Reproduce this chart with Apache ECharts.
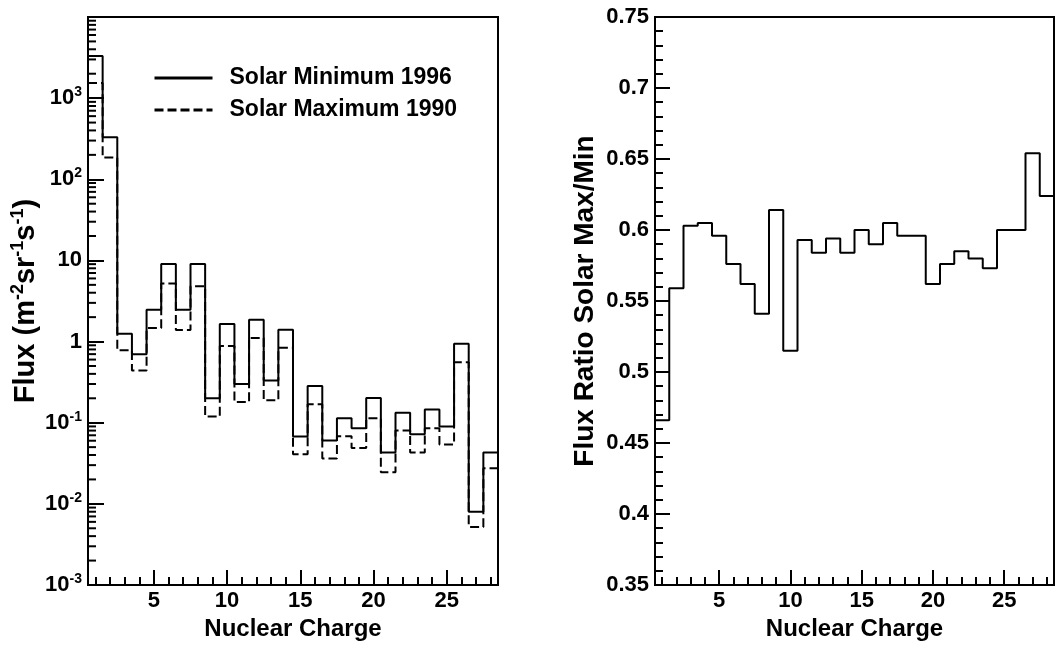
<!DOCTYPE html>
<html><head><meta charset="utf-8">
<script src="https://cdn.jsdelivr.net/npm/echarts@6/dist/echarts.min.js"></script>
<style>html,body{margin:0;padding:0;background:#fff}#c{width:1057px;height:646px}</style>
</head><body><div id="c"></div>
<script>
// ---- data ----
const charges = [1,2,3,4,5,6,7,8,9,10,11,12,13,14,15,16,17,18,19,20,21,22,23,24,25,26,27,28];
const fluxSolarMin1996 = [3300, 330, 1.25, 0.70, 2.47, 9.06, 2.47, 9.06, 0.200, 1.65, 0.299, 1.86, 0.332, 1.40, 0.0677, 0.283, 0.0604, 0.1136, 0.0857, 0.2017, 0.043, 0.133, 0.0723, 0.145, 0.0898, 0.937, 0.0080, 0.043];
const fluxSolarMax1990 = [1540, 185, 0.78, 0.44, 1.47, 5.2, 1.39, 4.82, 0.119, 0.885, 0.18, 1.11, 0.189, 0.837, 0.041, 0.169, 0.0363, 0.0683, 0.0487, 0.1136, 0.0245, 0.0802, 0.043, 0.0857, 0.054, 0.557, 0.0052, 0.0274];
const ratioMaxMin = [0.466, 0.559, 0.603, 0.605, 0.596, 0.576, 0.562, 0.541, 0.614, 0.515, 0.593, 0.584, 0.594, 0.584, 0.600, 0.590, 0.605, 0.596, 0.596, 0.562, 0.576, 0.585, 0.580, 0.573, 0.600, 0.600, 0.654, 0.624];
const seriesNames = ['Solar Minimum 1996', 'Solar Maximum 1990'];
const xTitle = 'Nuclear Charge';
const leftYTitle = 'Flux (m{sup|-2}sr{sup|-1}s{sup|-1})';
const rightYTitle = 'Flux Ratio Solar Max/Min';
const logMinorMultipliers = [2,3,4,5,6,7,8,9];
const logDecades = [-3,-2,-1,0,1,2,3];

// ---- helpers ----
function steps(vals) {
  const pts = [];
  vals.forEach((v, i) => { const z = charges[i]; pts.push([z - 0.5, v], [z + 0.5, v]); });
  return pts;
}
const FONT = 'Liberation Sans, Arial, Helvetica, sans-serif';
const black = '#000';
function xAxisCfg(gi) {
  return {
    type: 'value', gridIndex: gi, min: 0.5, max: 28.5, splitNumber: 6,
    axisLine: { show: true, onZero: false, lineStyle: { color: black, width: 2 } },
    axisTick: { show: true, inside: true, length: 15, lineStyle: { color: black, width: 2 } },
    minorTick: { show: true, splitNumber: 5, length: 8, lineStyle: { color: black, width: 2 } },
    splitLine: { show: false },
    axisLabel: { formatter: v => (Math.abs(v % 5) < 1e-9 ? String(v) : ''), color: black, fontFamily: FONT, fontWeight: 'bold', fontSize: 22, margin: 5, showMinLabel: true, showMaxLabel: true, hideOverlap: false },
    name: xTitle, nameLocation: 'middle', nameGap: 32,
    nameTextStyle: { color: black, fontFamily: FONT, fontWeight: 'bold', fontSize: 24 }
  };
}

const chart = echarts.init(document.getElementById('c'), null, { renderer: 'canvas' });
const option = {
  animation: false,
  backgroundColor: '#fff',
  grid: [
    { left: 88, top: 17, width: 410, height: 570, show: true, borderColor: black, borderWidth: 2, containLabel: false },
    { left: 655, top: 17, width: 409, height: 570, show: true, borderColor: black, borderWidth: 2, containLabel: false }
  ],
  legend: {
    data: seriesNames, orient: 'vertical', left: 148, top: 61,
    itemWidth: 58, itemHeight: 14, itemGap: 8,
    itemStyle: { opacity: 0 },
    lineStyle: { width: 3 },
    textStyle: { color: black, fontFamily: FONT, fontWeight: 'bold', fontSize: 23, lineHeight: 24, padding: [0, 0, 0, 12] }
  },
  xAxis: [xAxisCfg(0), xAxisCfg(1)],
  yAxis: [
    {
      type: 'log', logBase: 10, gridIndex: 0, min: 0.001, max: 10000,
      axisLine: { show: true, lineStyle: { color: black, width: 2 } },
      axisTick: { show: true, inside: true, length: 16, lineStyle: { color: black, width: 2 } },
      splitLine: { show: false },
      axisLabel: {
        color: black, fontFamily: FONT, fontWeight: 'bold', fontSize: 22, margin: 6,
        formatter: v => {
          const e = Math.round(Math.log10(v));
          if (e === 4) return '';
          if (e === 0) return '{b|1}';
          if (e === 1) return '{b|10}';
          return '{b|10}{s|' + e + '}';
        },
        rich: {
          b: { fontSize: 22, fontWeight: 'bold', fontFamily: FONT, color: black, lineHeight: 30 },
          s: { fontSize: 14, fontWeight: 'bold', fontFamily: FONT, color: black, lineHeight: 30, verticalAlign: 'top', padding: [2, 0, 0, 0] }
        }
      },
      name: leftYTitle, nameLocation: 'middle', nameGap: 45,
      nameTextStyle: {
        color: black, fontFamily: FONT, fontWeight: 'bold', fontSize: 29,
        rich: { sup: { fontSize: 18, fontWeight: 'bold', fontFamily: FONT, color: black, verticalAlign: 'top', lineHeight: 34 } }
      }
    },
    {
      type: 'value', gridIndex: 1, min: 0.35, max: 0.75, interval: 0.05,
      axisLine: { show: true, onZero: false, lineStyle: { color: black, width: 2 } },
      axisTick: { show: true, inside: true, length: 15, lineStyle: { color: black, width: 2 } },
      minorTick: { show: true, splitNumber: 5, length: 8, lineStyle: { color: black, width: 2 } },
      splitLine: { show: false },
      axisLabel: { color: black, fontFamily: FONT, fontWeight: 'bold', fontSize: 22, margin: 6, showMinLabel: true, showMaxLabel: true },
      name: rightYTitle, nameLocation: 'middle', nameGap: 56,
      nameTextStyle: { color: black, fontFamily: FONT, fontWeight: 'bold', fontSize: 28 }
    }
  ],
  series: [
    {
      name: seriesNames[1], type: 'line', xAxisIndex: 0, yAxisIndex: 0, data: steps(fluxSolarMax1990),
      symbol: 'none', lineStyle: { color: black, width: 2, type: [9, 4] }, itemStyle: { color: black }, z: 2
    },
    {
      name: seriesNames[0], type: 'line', xAxisIndex: 0, yAxisIndex: 0, data: steps(fluxSolarMin1996),
      symbol: 'none', lineStyle: { color: black, width: 2, type: 'solid' }, itemStyle: { color: black }, z: 3
    },
    {
      name: 'ratio', type: 'line', xAxisIndex: 1, yAxisIndex: 1, data: steps(ratioMaxMin),
      symbol: 'none', lineStyle: { color: black, width: 2 }, itemStyle: { color: black }, z: 3
    }
  ]
};
chart.setOption(option);

// log-axis minor ticks positioned through the library's own log scale
const x0 = chart.convertToPixel({ xAxisIndex: 0 }, 0.5);
const elements = [];
logDecades.forEach(e => {
  logMinorMultipliers.forEach(m => {
    const y = chart.convertToPixel({ yAxisIndex: 0 }, m * Math.pow(10, e));
    elements.push({ type: 'line', shape: { x1: x0, y1: y, x2: x0 + 8, y2: y }, style: { stroke: black, lineWidth: 2 }, silent: true, z: 10 });
  });
});
chart.setOption({ graphic: elements });
</script></body></html>
